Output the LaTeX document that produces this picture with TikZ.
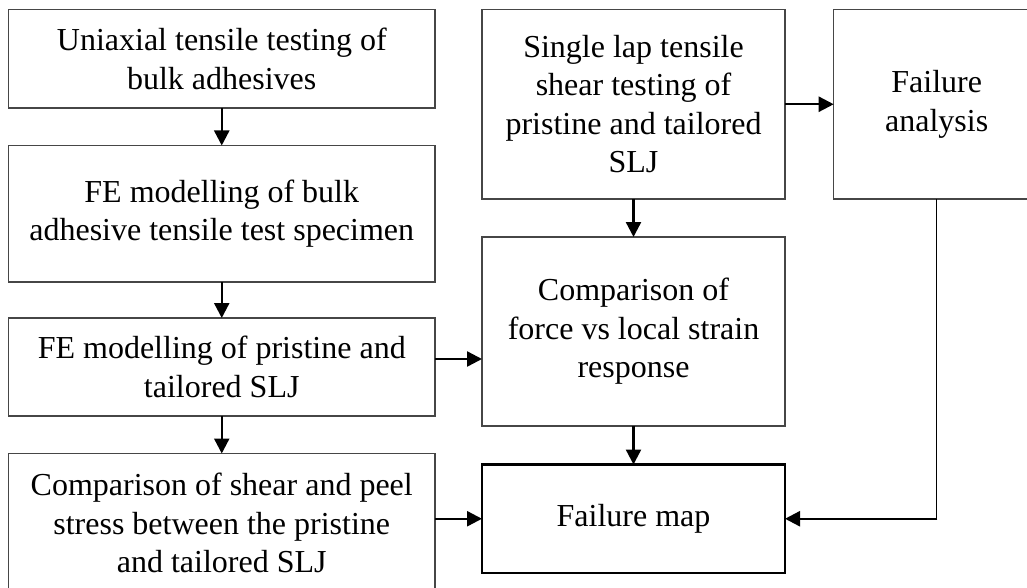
\documentclass[tikz,border=0pt]{standalone}
\usepackage{fontspec}
\setmainfont{Liberation Serif}
\usetikzlibrary{arrows.meta}
\definecolor{bordergray}{RGB}{70,70,70}
\tikzset{
  stepbox/.style={draw=bordergray, line width=1.2pt, inner sep=0pt, outer sep=0pt,
    align=center, font=\fontsize{32}{38.5}\selectfont},
  boldbox/.style={stepbox, draw=black, line width=2.4pt},
  arr/.style={line width=2.4pt, -{Triangle[length=15pt,width=15pt]}},
  thinline/.style={line width=1.3pt}
}
\begin{document}
\begin{tikzpicture}[x=1pt,y=-1pt]
\useasboundingbox (0,0) rectangle (1027,588);
\clip (0,0) rectangle (1027,588);
\node[stepbox, minimum width=426.5pt, minimum height=98.5pt] (A) at (221.75,58.75)
  {Uniaxial tensile testing of\\bulk adhesives};
\node[stepbox, minimum width=426.5pt, minimum height=136.5pt] (B) at (221.75,213.75)
  {FE modelling of bulk\\adhesive tensile test specimen};
\node[stepbox, minimum width=426.5pt, minimum height=98pt] (C) at (221.75,367)
  {FE modelling of pristine and\\tailored SLJ};
\node[stepbox, minimum width=426.5pt, minimum height=139pt] (D) at (221.75,523)
  {Comparison of shear and peel\\stress between the pristine\\and tailored SLJ};
\node[stepbox, minimum width=303pt, minimum height=189.5pt] (E) at (633.5,104.25)
  {Single lap tensile\\shear testing of\\pristine and tailored\\SLJ};
\node[stepbox, minimum width=206pt, minimum height=189.5pt] (F) at (936.7,104.25)
  {Failure\\analysis};
\node[stepbox, minimum width=303pt, minimum height=189pt] (G) at (633.5,331.5)
  {Comparison of\\force vs local strain\\response};
\node[boldbox, minimum width=303pt, minimum height=108.5pt] (H) at (633.5,518.75)
  {Failure map};
\draw[arr] (A.south) -- (B.north);
\draw[arr] (B.south) -- (C.north);
\draw[arr] (C.south) -- (D.north);
\draw[arr] ([yshift=8pt]C.east) -- ([yshift=8pt]C.east -| G.west);
\draw[arr] (H.west -| D.east) -- (H.west);
\draw[arr] (E.east) -- (F.west);
\draw[arr] (E.south) -- (G.north);
\draw[arr] (G.south) -- (H.north);
\coordinate (corner) at (F.south |- H.east);
\draw[thinline] (F.south) -- ([yshift=-1pt]corner);
\draw[arr] ([xshift=0.6pt]corner) -- (H.east);
\end{tikzpicture}
\end{document}
